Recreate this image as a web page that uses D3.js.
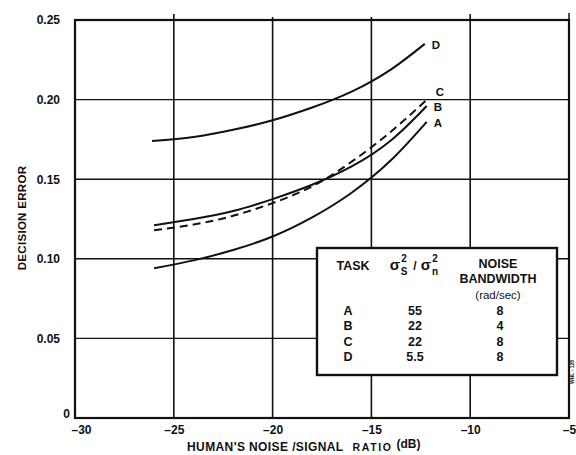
<!DOCTYPE html>
<html>
<head>
<meta charset="utf-8">
<script src="https://cdn.jsdelivr.net/npm/d3@7"></script>
<style>
  body { margin: 0; background: #fff; }
  text { font-family: "Liberation Sans", Arial, sans-serif; fill: #111; }
</style>
</head>
<body>
<div id="chart"></div>
<script>
// decision error vs. human's noise/signal ratio, one curve per task
var curveA = [[-26, 0.094], [-24, 0.099], [-22, 0.1055], [-20, 0.114], [-18, 0.126], [-16, 0.1415], [-14, 0.162], [-12.2, 0.186]];
var curveB = [[-26, 0.121], [-24, 0.125], [-22, 0.130], [-20, 0.1375], [-18, 0.1465], [-16, 0.158], [-14, 0.1745], [-12.2, 0.196]];
var curveC = [[-26, 0.118], [-24, 0.1215], [-22, 0.127], [-20, 0.135], [-18, 0.1455], [-16, 0.161], [-14, 0.180], [-12.1, 0.201]];
var curveD = [[-26.1, 0.174], [-24, 0.1765], [-22, 0.181], [-20, 0.187], [-18, 0.195], [-16, 0.205], [-14, 0.219], [-12.3, 0.235]];

var xTicks = [-30, -25, -20, -15, -10, -5];
var yTicks = [0, 0.05, 0.10, 0.15, 0.20, 0.25];

// legend table
var tasks = ["A", "B", "C", "D"];
var ratios = ["55", "22", "22", "5.5"];
var bandwidths = ["8", "4", "8", "8"];

var width = 576, height = 455;

var x = d3.scaleLinear().domain([-30, -5]).range([75, 569]);
var y = d3.scaleLinear().domain([0, 0.25]).range([418, 20]);

var svg = d3.select("#chart").append("svg")
    .attr("width", width)
    .attr("height", height);

var minus = function(v) { return String(v).replace("-", "\u2013"); };

// grid
svg.selectAll("line.vgrid")
    .data(xTicks.slice(1, -1))
    .enter().append("line")
        .attr("class", "vgrid")
        .attr("x1", function(d) { return x(d); })
        .attr("x2", function(d) { return x(d); })
        .attr("y1", function(d) { return y(0.25) - (d === -25 || d === -10 ? 6 : 3); })
        .attr("y2", y(0))
        .style("stroke", "#111")
        .style("stroke-width", 1.6);

svg.selectAll("line.hgrid")
    .data(yTicks.slice(1, -1))
    .enter().append("line")
        .attr("class", "hgrid")
        .attr("x1", x(-30))
        .attr("x2", x(-5))
        .attr("y1", function(d) { return y(d); })
        .attr("y2", function(d) { return y(d); })
        .style("stroke", "#111")
        .style("stroke-width", 1.4);

// frame
svg.append("rect")
    .attr("x", x(-30))
    .attr("y", y(0.25))
    .attr("width", x(-5) - x(-30))
    .attr("height", y(0) - y(0.25))
    .style("fill", "none")
    .style("stroke", "#111")
    .style("stroke-width", 2.2);

svg.append("line")
    .attr("x1", x(-5)).attr("x2", x(-5))
    .attr("y1", y(0.25) - 7).attr("y2", y(0.25))
    .style("stroke", "#111")
    .style("stroke-width", 1.5);

// axes
var xAxis = d3.axisBottom(x).tickValues(xTicks).tickSize(0).tickFormat(minus);
svg.append("g")
    .attr("transform", "translate(0," + y(0) + ")")
    .call(xAxis)
    .call(function(g) { g.select(".domain").remove(); })
    .selectAll("text")
        .attr("dy", "1.05em")
        .attr("dx", function(d) { return d === -30 ? 6 : 0; })
        .style("font-size", "12px")
        .style("font-weight", "bold");

var yAxis = d3.axisLeft(y).tickValues(yTicks).tickSize(0)
    .tickFormat(function(d) { return d === 0 ? "0" : d3.format(".2f")(d); });
svg.append("g")
    .attr("transform", "translate(" + (x(-30) - 12) + ",0)")
    .call(yAxis)
    .call(function(g) { g.select(".domain").remove(); })
    .selectAll("text")
        .attr("dx", function(d) { return d === 0 ? 10 : 0; })
        .attr("dy", function(d) { return d === 0 ? "-0.05em" : "0.32em"; })
        .style("font-size", "12px")
        .style("font-weight", "bold");

// axis titles
svg.append("text")
    .attr("transform", "translate(26,218) rotate(-90)")
    .attr("text-anchor", "middle")
    .style("font-size", "11.5px")
    .style("font-weight", "bold")
    .style("letter-spacing", "0.3px")
    .text("DECISION  ERROR");

var xt = svg.append("text")
    .attr("x", 187)
    .attr("y", 451)
    .style("font-size", "12px")
    .style("font-weight", "bold")
    .style("letter-spacing", "0.4px");
xt.append("tspan").text("HUMAN'S  NOISE /SIGNAL");
xt.append("tspan").attr("dx", 9).style("font-size", "10.5px").style("letter-spacing", "1.6px").text("RATIO");
xt.append("tspan").attr("dx", 4).attr("dy", -3).style("font-size", "12px").style("letter-spacing", "0px").text("(dB)");

// curves
var line = d3.line()
    .x(function(d) { return x(d[0]); })
    .y(function(d) { return y(d[1]); })
    .curve(d3.curveNatural);

var series = [
    {name: "A", values: curveA, dash: null, dy: 5},
    {name: "B", values: curveB, dash: null, dy: 5},
    {name: "C", values: curveC, dash: "8,5", dy: -2},
    {name: "D", values: curveD, dash: null, dy: 5}
];

svg.selectAll("path.curve")
    .data(series)
    .enter().append("path")
        .attr("class", "curve")
        .attr("d", function(d) { return line(d.values); })
        .style("fill", "none")
        .style("stroke", "#111")
        .style("stroke-width", 2)
        .style("stroke-dasharray", function(d) { return d.dash; });

svg.selectAll("text.curveLabel")
    .data(series)
    .enter().append("text")
        .attr("class", "curveLabel")
        .attr("x", function(d) { return x(d.values[d.values.length - 1][0]) + 7; })
        .attr("y", function(d) { return y(d.values[d.values.length - 1][1]) + d.dy; })
        .style("font-size", "11.5px")
        .style("font-weight", "bold")
        .text(function(d) { return d.name; });

// legend table
var lg = svg.append("g").attr("class", "legend");
lg.append("rect")
    .attr("x", 317)
    .attr("y", 248)
    .attr("width", 240)
    .attr("height", 127)
    .style("fill", "#fff")
    .style("stroke", "#111")
    .style("stroke-width", 2.4);

var hdr = function(tx, ty, s, size, weight) {
    lg.append("text")
        .attr("x", tx).attr("y", ty)
        .attr("text-anchor", "middle")
        .style("font-size", (size || 12.5) + "px")
        .style("font-weight", weight || "bold")
        .text(s);
};
hdr(353, 270, "TASK");
hdr(498, 268, "NOISE");
hdr(498, 283, "BANDWIDTH");
hdr(498, 299, "(rad/sec)", 11.5, "normal");

// sigma_s^2 / sigma_n^2
hdr(395, 270, "\u03c3", 15);
hdr(404, 262, "2", 10);
hdr(404, 275, "S", 10);
hdr(415, 270, "/", 12);
hdr(426, 270, "\u03c3", 15);
hdr(435, 262, "2", 10);
hdr(435, 275, "n", 10);

var rowY = d3.scalePoint().domain(tasks).range([315, 361]);
tasks.forEach(function(t, i) {
    hdr(348, rowY(t), t);
    hdr(415, rowY(t), ratios[i]);
    hdr(500, rowY(t), bandwidths[i]);
});

// scan reference number at the edge
svg.append("text")
    .attr("transform", "translate(574,384) rotate(-90)")
    .style("font-size", "5px")
    .style("font-weight", "bold")
    .text("WHL - 128");
</script>
</body>
</html>
